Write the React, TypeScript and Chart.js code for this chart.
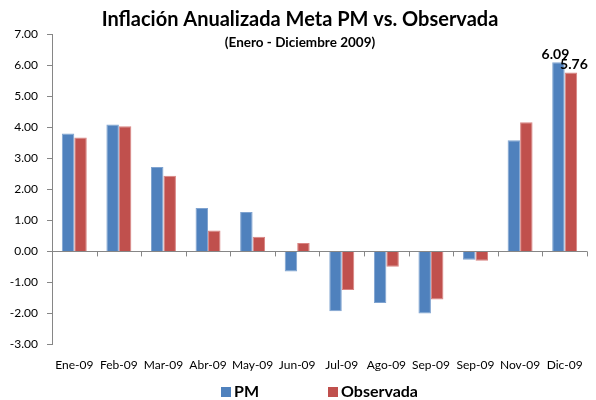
import React, { useEffect, useRef } from "react";
import { Chart, registerables } from "chart.js";

Chart.register(...registerables);

const categories = ["Ene-09", "Feb-09", "Mar-09", "Abr-09", "May-09", "Jun-09", "Jul-09", "Ago-09", "Sep-09", "Sep-09", "Nov-09", "Dic-09"];
const pmValues = [3.80, 4.09, 2.72, 1.40, 1.27, -0.65, -1.93, -1.66, -2.00, -0.27, 3.58, 6.09];
const observadaValues = [3.67, 4.03, 2.44, 0.67, 0.47, 0.27, -1.24, -0.49, -1.55, -0.30, 4.16, 5.76];
const labeledIndex = 11;
const titleText = "Inflación Anualizada Meta PM vs. Observada";
const subtitleText = "(Enero - Diciembre 2009)";
const seriesNames = ["PM", "Observada"];
const seriesColors = ["#4F81BD", "#C0504D"];

const FONT = "Lato, 'Open Sans', sans-serif";

const overlayPlugin = {
  id: "overlay",
  afterDraw(chart: any) {
    const { ctx, chartArea, scales } = chart;
    const y0 = scales.y.getPixelForValue(0);
    ctx.save();
    // tick marks along the zero line
    ctx.strokeStyle = "#868686";
    ctx.lineWidth = 1;
    const n = categories.length;
    const w = (chartArea.right - chartArea.left) / n;
    for (let i = 0; i <= n; i++) {
      const x = Math.round(chartArea.left + i * w) + 0.5;
      ctx.beginPath();
      ctx.moveTo(x, y0);
      ctx.lineTo(x, y0 + 5);
      ctx.stroke();
    }
    // title
    ctx.fillStyle = "#000";
    ctx.textAlign = "center";
    ctx.textBaseline = "middle";
    ctx.font = `bold 20px ${FONT}`;
    ctx.fillText(titleText, 300, 20);
    ctx.font = `bold 13.5px ${FONT}`;
    ctx.fillText(subtitleText, 300, 43);
    // data labels for last category
    ctx.font = `bold 14px ${FONT}`;
    ctx.textBaseline = "bottom";
    chart.data.datasets.forEach((ds: any, di: number) => {
      const meta = chart.getDatasetMeta(di);
      const el = meta.data[labeledIndex];
      const v = ds.data[labeledIndex];
      ctx.fillText(v.toFixed(2), el.x + (di === 1 ? 3 : -3), el.y - 1);
    });
    // legend
    ctx.font = `bold 16px ${FONT}`;
    ctx.textAlign = "left";
    ctx.textBaseline = "middle";
    const legendY = 392;
    const starts = [221, 328];
    seriesNames.forEach((name, i) => {
      ctx.fillStyle = seriesColors[i];
      ctx.fillRect(starts[i], legendY - 5, 10, 10);
      ctx.fillStyle = "#000";
      ctx.fillText(name, starts[i] + 13, legendY);
    });
    ctx.restore();
  },
};

export default function App() {
  const canvasRef = useRef<HTMLCanvasElement | null>(null);

  useEffect(() => {
    if (!canvasRef.current) return;
    const chart = new Chart(canvasRef.current, {
      type: "bar",
      data: {
        labels: categories,
        datasets: [
          {
            label: seriesNames[0],
            data: pmValues,
            backgroundColor: seriesColors[0],
            borderColor: "#7FA3D0",
            borderWidth: 1,
            categoryPercentage: 0.56,
            barPercentage: 1,
          },
          {
            label: seriesNames[1],
            data: observadaValues,
            backgroundColor: seriesColors[1],
            borderColor: "#D98482",
            borderWidth: 1,
            categoryPercentage: 0.56,
            barPercentage: 1,
          },
        ],
      },
      options: {
        animation: false,
        responsive: false,
        maintainAspectRatio: false,
        layout: { padding: { top: 34, right: 9, bottom: 15, left: 8 } },
        plugins: {
          legend: { display: false },
          title: { display: false },
          tooltip: { enabled: false },
        },
        scales: {
          x: {
            border: { display: false },
            grid: { display: false, drawTicks: false },
            ticks: {
              color: "#000",
              font: { family: FONT, size: 12 },
              padding: 13,
              maxRotation: 0,
              autoSkip: false,
            },
          },
          y: {
            min: -3,
            max: 7,
            afterFit: (scale: any) => {
              scale.width = 44;
            },
            border: { display: true, color: "#868686" },
            grid: {
              color: (c: any) => (c.tick && c.tick.value === 0 ? "#868686" : "rgba(0,0,0,0)"),
              tickColor: "#868686",
              tickLength: 5,
              drawTicks: true,
            },
            ticks: {
              stepSize: 1,
              color: "#000",
              padding: 9,
              font: { family: FONT, size: 12 },
              callback: (v: any) => Number(v).toFixed(2),
            },
          },
        },
      },
      plugins: [overlayPlugin],
    });
    return () => chart.destroy();
  }, []);

  return (
    <div style={{ position: "fixed", left: 0, top: 0, width: 596, height: 400, background: "#fff" }}>
      <canvas ref={canvasRef} width={596} height={400} />
    </div>
  );
}
